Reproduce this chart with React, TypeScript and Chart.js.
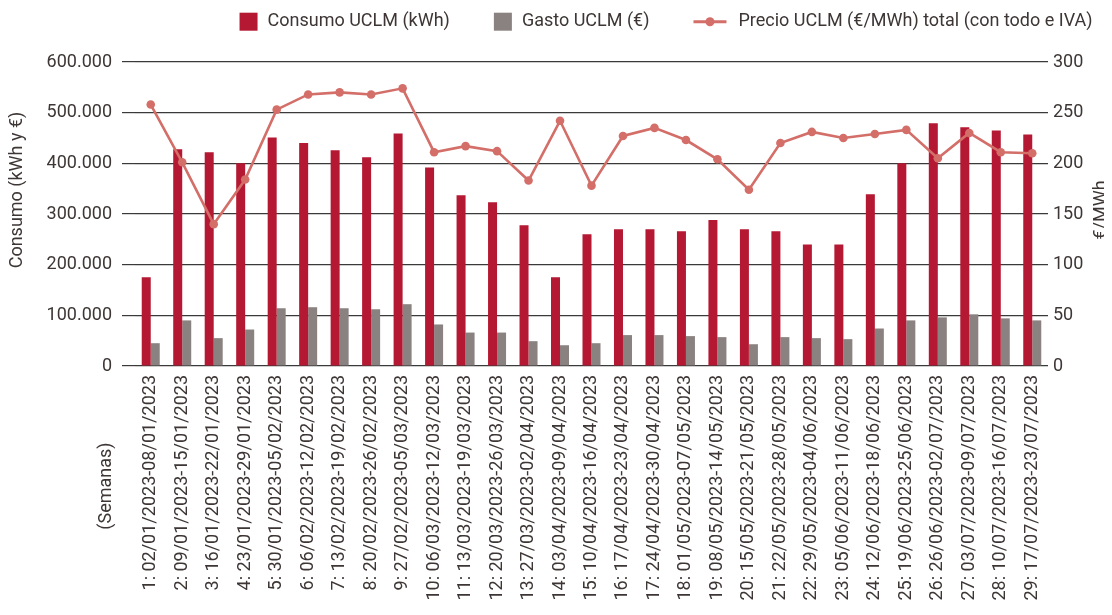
import React, { useEffect, useRef } from "react";
import { Chart, registerables } from "chart.js";

Chart.register(...registerables);

const weeks: string[] = [
  "1: 02/01/2023-08/01/2023",
  "2: 09/01/2023-15/01/2023",
  "3: 16/01/2023-22/01/2023",
  "4: 23/01/2023-29/01/2023",
  "5: 30/01/2023-05/02/2023",
  "6: 06/02/2023-12/02/2023",
  "7: 13/02/2023-19/02/2023",
  "8: 20/02/2023-26/02/2023",
  "9: 27/02/2023-05/03/2023",
  "10: 06/03/2023-12/03/2023",
  "11: 13/03/2023-19/03/2023",
  "12: 20/03/2023-26/03/2023",
  "13: 27/03/2023-02/04/2023",
  "14: 03/04/2023-09/04/2023",
  "15: 10/04/2023-16/04/2023",
  "16: 17/04/2023-23/04/2023",
  "17: 24/04/2023-30/04/2023",
  "18: 01/05/2023-07/05/2023",
  "19: 08/05/2023-14/05/2023",
  "20: 15/05/2023-21/05/2023",
  "21: 22/05/2023-28/05/2023",
  "22: 29/05/2023-04/06/2023",
  "23: 05/06/2023-11/06/2023",
  "24: 12/06/2023-18/06/2023",
  "25: 19/06/2023-25/06/2023",
  "26: 26/06/2023-02/07/2023",
  "27: 03/07/2023-09/07/2023",
  "28: 10/07/2023-16/07/2023",
  "29: 17/07/2023-23/07/2023",
];

const consumo: number[] = [
  175000, 428000, 422000, 400000, 451000, 440000, 426000, 412000, 459000, 392000,
  337000, 323000, 278000, 175000, 260000, 270000, 270000, 266000, 288000, 270000,
  266000, 240000, 240000, 339000, 400000, 479000, 471000, 465000, 457000,
];

const gasto: number[] = [
  45000, 90000, 55000, 72000, 114000, 116000, 114000, 112000, 122000, 82000,
  66000, 66000, 49000, 41000, 45000, 61000, 61000, 59000, 57000, 43000,
  57000, 55000, 53000, 74000, 90000, 96000, 102000, 94000, 90000,
];

const precio: number[] = [
  258, 201, 140, 184, 253, 268, 270, 268, 274, 211,
  217, 212, 183, 242, 178, 227, 235, 223, 204, 174,
  220, 231, 225, 229, 233, 205, 230, 211, 210,
];

const leftTickLabels: string[] = ["0", "100.000", "200.000", "300.000", "400.000", "500.000", "600.000"];
const rightTickLabels: string[] = ["0", "50", "100", "150", "200", "250", "300"];

const seriesNames: string[] = [
  "Consumo UCLM (kWh)",
  "Gasto UCLM (€)",
  "Precio UCLM (€/MWh) total (con todo e IVA)",
];

const leftTitle = "Consumo (kWh y €)";
const rightTitle = "€/MWh";
const xTitle = "(Semanas)";

const RED = "#b51833";
const GRAY = "#8a8280";
const LINE = "#d36e69";
const TEXT = "#3d3635";
const GRID = "#3a3a3a";
const FONT = "Roboto";

const overlayPlugin = {
  id: "overlay",
  afterDraw(chart: any) {
    const ctx = chart.ctx as CanvasRenderingContext2D;
    ctx.save();
    ctx.font = `18px ${FONT}`;
    ctx.fillStyle = TEXT;
    ctx.textBaseline = "middle";

    // legend
    const ds = chart.data.datasets;
    const items = [
      { label: ds[1].label, kind: "box", color: RED },
      { label: ds[2].label, kind: "box", color: GRAY },
      { label: ds[0].label, kind: "line", color: LINE },
    ];
    const gapItems = 44;
    const widths = items.map((it) => {
      const sym = it.kind === "box" ? 18 : 33;
      const gap = it.kind === "box" ? 10 : 12;
      return sym + gap + ctx.measureText(it.label).width;
    });
    const total = widths.reduce((a, b) => a + b, 0) + gapItems * (items.length - 1);
    let x = 658 - total / 2;
    const cy = 13.7;
    items.forEach((it, i) => {
      if (it.kind === "box") {
        ctx.fillStyle = it.color;
        ctx.fillRect(x, cy - 9, 18, 18);
        ctx.fillStyle = TEXT;
        ctx.textAlign = "left";
        ctx.fillText(it.label, x + 28, cy);
      } else {
        ctx.strokeStyle = it.color;
        ctx.lineWidth = 3;
        ctx.beginPath();
        ctx.moveTo(x, cy);
        ctx.lineTo(x + 33, cy);
        ctx.stroke();
        ctx.fillStyle = it.color;
        ctx.beginPath();
        ctx.arc(x + 16.5, cy, 4.5, 0, Math.PI * 2);
        ctx.fill();
        ctx.fillStyle = TEXT;
        ctx.textAlign = "left";
        ctx.fillText(it.label, x + 45, cy);
      }
      x += widths[i] + gapItems;
    });

    // axis titles
    const rot = (t: string, px: number, py: number) => {
      ctx.save();
      ctx.translate(px, py);
      ctx.rotate(-Math.PI / 2);
      ctx.textAlign = "center";
      ctx.textBaseline = "middle";
      ctx.fillStyle = TEXT;
      ctx.fillText(t, 0, 0);
      ctx.restore();
    };
    rot(leftTitle, 9.5, 182);
    rot(rightTitle, 1093, 202);
    rot(xTitle, 98.5, 478);
    ctx.restore();
  },
};

export default function App() {
  const ref = useRef<HTMLCanvasElement | null>(null);
  useEffect(() => {
    if (!ref.current) return;
    const chart = new Chart(ref.current, {
      type: "bar",
      data: {
        labels: weeks,
        datasets: [
          {
            type: "line",
            label: seriesNames[2],
            data: precio,
            yAxisID: "y1",
            borderColor: LINE,
            backgroundColor: LINE,
            borderWidth: 2.6,
            pointRadius: 4.3,
            pointBorderWidth: 0,
            pointBackgroundColor: LINE,
            tension: 0,
            order: 0,
          } as any,
          {
            type: "bar",
            label: seriesNames[0],
            data: consumo,
            yAxisID: "y",
            backgroundColor: RED,
            categoryPercentage: 0.572,
            barPercentage: 1,
            order: 1,
          },
          {
            type: "bar",
            label: seriesNames[1],
            data: gasto,
            yAxisID: "y",
            backgroundColor: GRAY,
            categoryPercentage: 0.572,
            barPercentage: 1,
            order: 1,
          },
        ],
      },
      options: {
        animation: false,
        responsive: false,
        layout: { padding: { top: 54, left: 0, right: 0, bottom: 0 } },
        plugins: { legend: { display: false }, tooltip: { enabled: false }, title: { display: false } },
        scales: {
          x: {
            grid: { display: false, drawTicks: false },
            border: { display: false },
            ticks: {
              autoSkip: false,
              minRotation: 90,
              maxRotation: 90,
              padding: 9,
              color: TEXT,
              font: { family: FONT, size: 18 },
              callback: (_v: any, i: number) => (i < 9 ? "\u2007" : "") + weeks[i],
            },
            afterFit: (s: any) => {
              s.height = 249;
            },
          },
          y: {
            position: "left",
            min: 0,
            max: 600000,
            border: { display: false },
            grid: { color: GRID, lineWidth: 1.2, drawTicks: true, tickLength: 13, tickColor: GRID },
            ticks: {
              stepSize: 100000,
              padding: 10,
              color: TEXT,
              font: { family: FONT, size: 18 },
              callback: (_v: any, i: number) => leftTickLabels[i],
            },
            afterFit: (s: any) => {
              s.width = 127;
            },
          },
          y1: {
            position: "right",
            min: 0,
            max: 300,
            border: { display: false },
            grid: { display: false, drawTicks: false },
            ticks: {
              stepSize: 50,
              padding: 5,
              color: TEXT,
              font: { family: FONT, size: 18 },
              callback: (_v: any, i: number) => rightTickLabels[i],
            },
            afterFit: (s: any) => {
              s.width = 64;
            },
          },
        },
      },
      plugins: [overlayPlugin],
    });
    return () => chart.destroy();
  }, []);
  return (
    <div style={{ width: 1104, height: 607 }}>
      <canvas ref={ref} width={1104} height={607} style={{ display: "block" }} />
    </div>
  );
}
